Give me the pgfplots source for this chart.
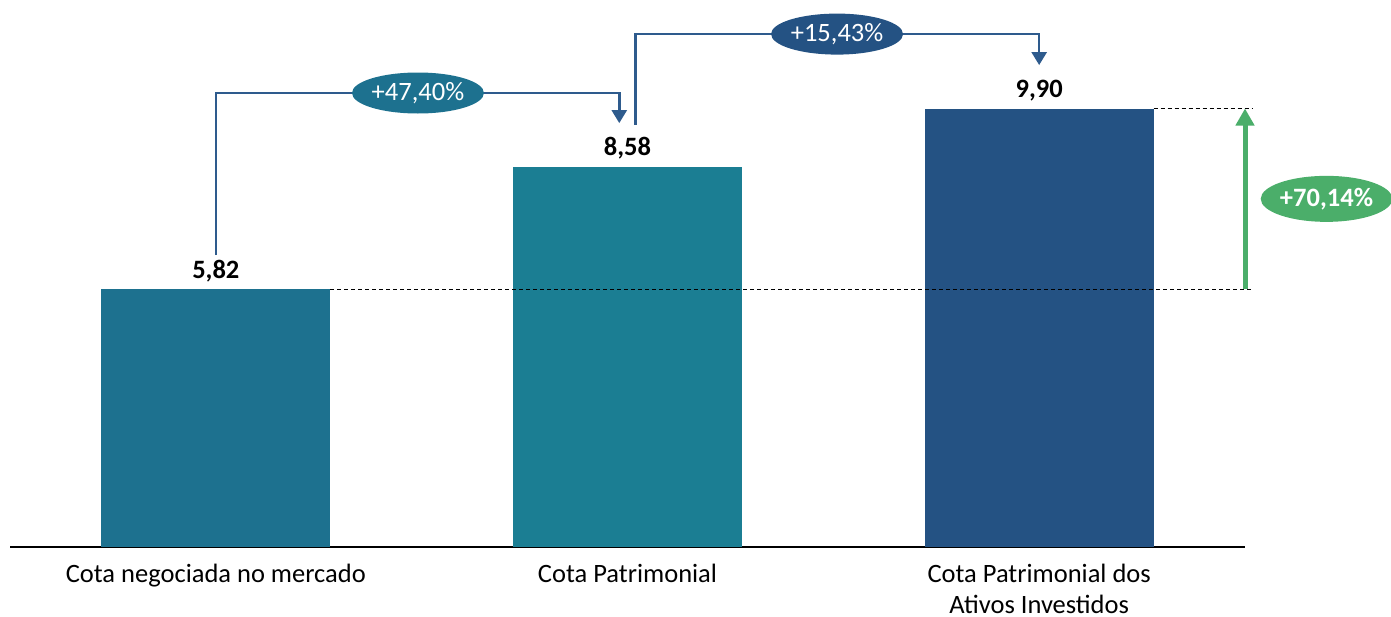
\documentclass[border=0pt]{standalone}
\usepackage{fontspec}
\setmainfont{Carlito}
\usepackage{pgfplots}
\pgfplotsset{compat=1.18}
\usetikzlibrary{arrows.meta,shapes.geometric}
\definecolor{cA}{HTML}{1D718F}
\definecolor{cB}{HTML}{1B7E93}
\definecolor{cC}{HTML}{245283}
\definecolor{cLine}{HTML}{2E5B8D}
\definecolor{cGreen}{HTML}{4BAE6A}
\begin{document}
\begin{tikzpicture}[font=\fontsize{26.5}{31}\selectfont]
\path[use as bounding box] (-10pt,-70pt) rectangle (1381pt,547pt);
\begin{axis}[
  at={(0pt,0pt)}, anchor=south west,
  scale only axis, width=1235pt, height=547pt,
  xmin=-0.5, xmax=2.5, ymin=0, ymax=12.35,
  axis y line=none, axis x line=bottom,
  x axis line style={-, line width=2pt, black},
  xtick={0,1,2}, ytick=\empty,
  xtick style={draw=none},
  xticklabels={Cota negociada no mercado, Cota Patrimonial, {Cota Patrimonial dos\\Ativos Investidos}},
  xticklabel style={align=center, anchor=north, yshift=-11pt, font=\fontsize{26.5}{31}\selectfont},
  clip=false,
  nodes near coords,
  nodes near coords style={font=\bfseries\fontsize{26.5}{30}\selectfont, anchor=south, yshift=4pt,
    /pgf/number format/.cd, use comma, fixed, fixed zerofill, precision=2, assume math mode=true},
]
\addplot[ybar, bar width=229pt, bar shift=0pt, fill=cA, draw=none] coordinates {(0,5.82)};
\addplot[ybar, bar width=229pt, bar shift=0pt, fill=cB, draw=none] coordinates {(1,8.58)};
\addplot[ybar, bar width=229pt, bar shift=0pt, fill=cC, draw=none] coordinates {(2,9.90)};

% dashed reference lines
\draw[black, line width=1pt, dash pattern=on 4pt off 3pt] (axis cs:0.278,5.82) -- (axis cs:2.52,5.82);
\draw[black, line width=1pt, dash pattern=on 4pt off 3pt] (axis cs:2.278,9.90) -- (axis cs:2.52,9.90);

% connector 1
\draw[cLine, line width=2.5pt, -{Triangle[width=15pt,length=13pt]}]
  (axis cs:0,6.59) -- (axis cs:0,10.25) -- (axis cs:0.98,10.25) -- (axis cs:0.98,9.57);
% connector 2
\draw[cLine, line width=2.5pt, -{Triangle[width=15pt,length=13pt]}]
  (axis cs:1.019,9.53) -- (axis cs:1.019,11.58) -- (axis cs:2.0,11.58) -- (axis cs:2.0,10.88);
\node[ellipse, fill=cA, minimum width=132pt, minimum height=41pt, inner sep=0pt, text=white]
  at (axis cs:0.491,10.25) {+47,40\%};
\node[ellipse, fill=cC, minimum width=132pt, minimum height=41pt, inner sep=0pt, text=white]
  at (axis cs:1.509,11.58) {+15,43\%};

% green arrow
\draw[cGreen, line width=5pt, -{Triangle[width=18pt,length=17pt]}]
  (axis cs:2.5,5.82) -- (axis cs:2.5,9.90);
\node[ellipse, fill=cGreen, minimum width=130pt, minimum height=46pt, inner sep=0pt, text=white, font=\bfseries\fontsize{26.5}{30}\selectfont]
  at (axis cs:2.698,7.86) {+70,14\%};
\end{axis}
\end{tikzpicture}
\end{document}
